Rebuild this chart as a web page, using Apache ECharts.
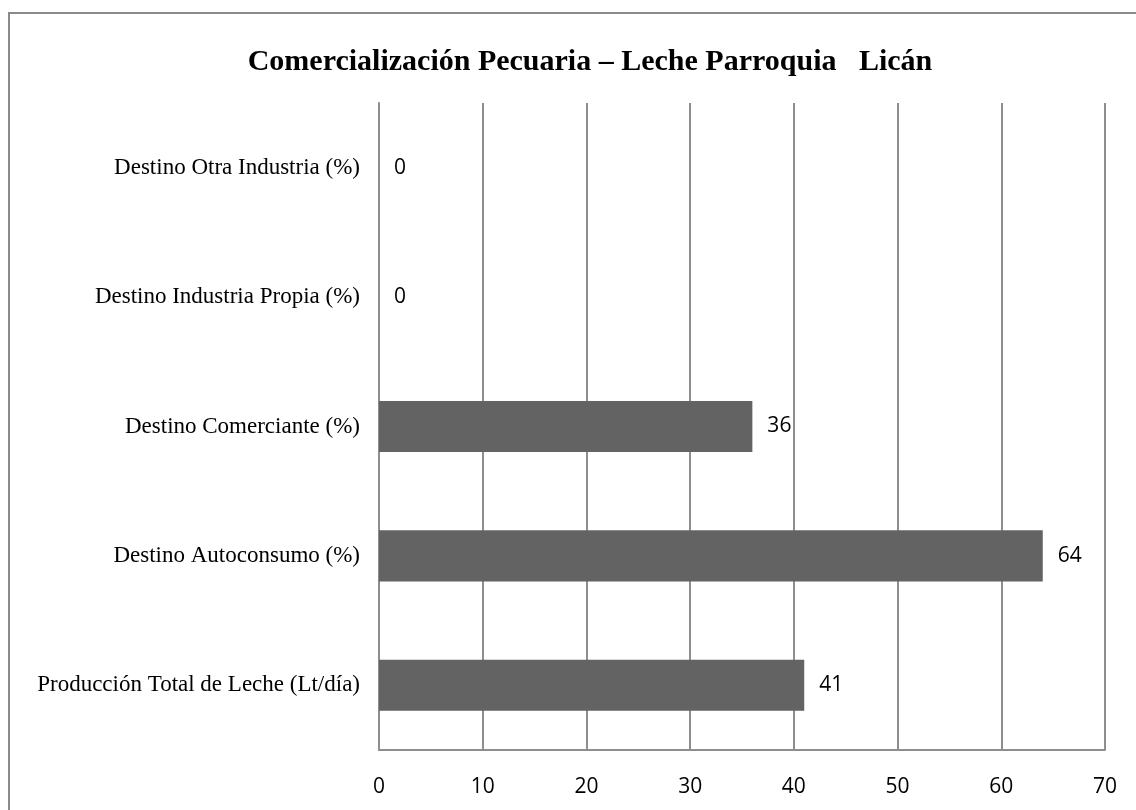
<!DOCTYPE html>
<html>
<head>
<meta charset="utf-8">
<script src="https://cdn.jsdelivr.net/npm/echarts@6/dist/echarts.min.js"></script>
<style>
    html, body { margin: 0; padding: 0; background: #fff; }
    #main { width: 1136px; height: 810px; }
</style>
</head>
<body>
<div id="main"></div>
<script>
    // datos del grafico
    var categories = [
        'Producción Total de Leche (Lt/día)',
        'Destino Autoconsumo (%)',
        'Destino Comerciante (%)',
        'Destino Industria Propia (%)',
        'Destino Otra Industria (%)'
    ];
    var values = [41, 64, 36, 0, 0];
    var xTicks = [0, 10, 20, 30, 40, 50, 60, 70];

    var myChart = echarts.init(document.getElementById('main'));
    var gray = '#8e8e8e';
    var option = {
        animation: false,
        backgroundColor: '#fff',
        graphic: [{
            type: 'rect',
            shape: {x: 9, y: 13, width: 1200, height: 900},
            style: {fill: 'none', stroke: '#8a8a8a', lineWidth: 2}
        }],
        title: {
            text: 'Comercialización Pecuaria – Leche Parroquia   Licán',
            left: 585,
            textAlign: 'center',
            top: 42,
            textStyle: {
                fontFamily: 'Liberation Serif',
                fontWeight: 'bold',
                fontSize: 30,
                color: '#000'
            }
        },
        grid: {left: 379, right: 31, top: 103, bottom: 60, containLabel: false},
        xAxis: {
            type: 'value',
            min: xTicks[0],
            max: xTicks[xTicks.length - 1],
            interval: 10,
            axisLine: {show: true, lineStyle: {color: gray, width: 2}},
            axisTick: {show: false},
            axisLabel: {
                margin: 27,
                fontFamily: 'Open Sans',
                fontSize: 21,
                color: '#000'
            },
            splitLine: {show: true, lineStyle: {color: gray, width: 2}}
        },
        yAxis: {
            type: 'category',
            data: categories,
            axisLine: {show: true, lineStyle: {color: gray, width: 2}},
            axisTick: {show: false},
            axisLabel: {
                margin: 19,
                fontFamily: 'Liberation Serif',
                fontSize: 23,
                color: '#000'
            }
        },
        series: [{
            type: 'bar',
            data: values,
            barWidth: '39.5%',
            itemStyle: {color: '#636363'},
            label: {
                show: true,
                position: 'right',
                distance: 15,
                fontFamily: 'Open Sans',
                fontSize: 21,
                color: '#000'
            }
        }]
    };
    myChart.setOption(option);
</script>
</body>
</html>
